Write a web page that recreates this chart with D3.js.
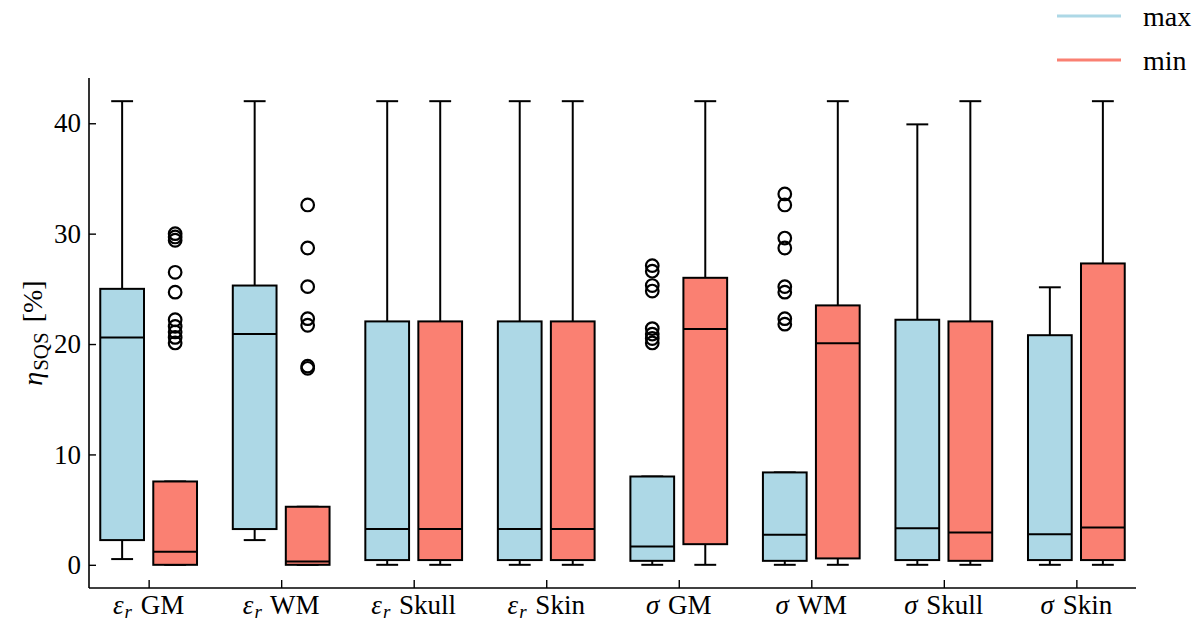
<!DOCTYPE html>
<html>
<head>
<meta charset="utf-8">
<script src="https://cdn.jsdelivr.net/npm/d3@7"></script>
<style>
  body { margin: 0; background: #fff; }
  text { font-family: "Liberation Serif", "DejaVu Serif", serif; }
</style>
</head>
<body>
<div id="chart"></div>
<script>
// Kategorien (Parameter + Gewebe)
const params = ["ε", "ε", "ε", "ε", "σ", "σ", "σ", "σ"];
const tissues = ["GM", "WM", "Skull", "Skin", "GM", "WM", "Skull", "Skin"];
const yTicks = [0, 10, 20, 30, 40];

// Serie "max"
const maxLow = [0.52, 2.24, 0, 0, 0, 0, 0, 0];
const maxQ1 = [2.24, 3.24, 0.43, 0.43, 0.36, 0.36, 0.43, 0.43];
const maxMed = [20.6, 20.9, 3.24, 3.24, 1.66, 2.72, 3.32, 2.78];
const maxQ3 = [25.0, 25.3, 22.05, 22.05, 8.0, 8.37, 22.2, 20.8];
const maxHigh = [42, 42, 42, 42, 8.0, 8.37, 39.9, 25.14];
const maxOut = [
    [], [], [], [],
    [27.1, 26.6, 25.3, 24.8, 21.4, 20.9, 20.5, 20.1],
    [33.6, 32.6, 29.6, 28.7, 25.2, 24.7, 22.3, 21.8],
    [], []
];

// Serie "min"
const minLow = [0, 0, 0, 0, 0, 0, 0, 0];
const minQ1 = [0, 0, 0.43, 0.43, 1.87, 0.58, 0.36, 0.43];
const minMed = [1.18, 0.3, 3.24, 3.24, 21.37, 20.07, 2.93, 3.38];
const minQ3 = [7.55, 5.26, 22.05, 22.05, 26.0, 23.5, 22.05, 27.3];
const minHigh = [7.55, 5.26, 42, 42, 42, 42, 42, 42];
const minOut = [
    [30.0, 29.7, 29.4, 26.5, 24.7, 22.2, 21.6, 21.1, 20.6, 20.1],
    [32.6, 28.7, 25.2, 22.3, 21.7, 18.0, 17.8],
    [], [], [], [], [], []
];

const series = [
    { name: "max", color: "#add8e6", offset: -0.2, low: maxLow, q1: maxQ1, med: maxMed, q3: maxQ3, high: maxHigh, out: maxOut },
    { name: "min", color: "#fa8072", offset: 0.2, low: minLow, q1: minQ1, med: minMed, q3: minQ3, high: minHigh, out: minOut },
];

const width = 1200, height = 622;
const plotLeft = 89, plotRight = 1136, plotTop = 78, plotBottom = 588;
const fontSize = 27;

const svg = d3.select("#chart").append("svg")
    .attr("width", width)
    .attr("height", height);

const x = d3.scaleLinear().domain([-0.45, 7.45]).range([plotLeft, plotRight]);
const y = d3.scaleLinear().domain([-2.1, 44.1]).range([plotBottom, plotTop]);

const boxW = x(0.33) - x(0);
const capW = boxW / 2;

// Boxen zeichnen
series.forEach(s => {
    const g = svg.append("g");
    tissues.forEach((_, i) => {
        const cx = x(i + s.offset);
        // Whisker
        g.append("line").attr("x1", cx).attr("x2", cx)
            .attr("y1", y(s.q3[i])).attr("y2", y(s.high[i]))
            .attr("stroke", "#000").attr("stroke-width", 2);
        g.append("line").attr("x1", cx).attr("x2", cx)
            .attr("y1", y(s.q1[i])).attr("y2", y(s.low[i]))
            .attr("stroke", "#000").attr("stroke-width", 2);
        // Caps
        [s.high[i], s.low[i]].forEach(v => {
            g.append("line").attr("x1", cx - capW / 2).attr("x2", cx + capW / 2)
                .attr("y1", y(v)).attr("y2", y(v))
                .attr("stroke", "#000").attr("stroke-width", 2);
        });
        // Box
        g.append("rect")
            .attr("x", cx - boxW / 2)
            .attr("y", y(s.q3[i]))
            .attr("width", boxW)
            .attr("height", y(s.q1[i]) - y(s.q3[i]))
            .attr("fill", s.color)
            .attr("stroke", "#000").attr("stroke-width", 2);
        // Median
        g.append("line").attr("x1", cx - boxW / 2).attr("x2", cx + boxW / 2)
            .attr("y1", y(s.med[i])).attr("y2", y(s.med[i]))
            .attr("stroke", "#000").attr("stroke-width", 2);
        // Ausreisser
        g.selectAll(null).data(s.out[i]).join("circle")
            .attr("cx", cx).attr("cy", d => y(d)).attr("r", 6.3)
            .attr("fill", "none").attr("stroke", "#000").attr("stroke-width", 2.2);
    });
});

// Achsen
const yAxis = svg.append("g")
    .attr("transform", `translate(${plotLeft},0)`)
    .call(d3.axisLeft(y).tickValues(yTicks).tickSize(-7).tickPadding(8));
yAxis.select(".domain").attr("d", `M0,${plotTop}V${plotBottom}`).attr("stroke-width", 1.6);
yAxis.selectAll(".tick line").attr("stroke-width", 1.4);
yAxis.selectAll("text").attr("font-size", fontSize).attr("fill", "#000")
    .attr("font-family", "Liberation Serif");

const xAxis = svg.append("g")
    .attr("transform", `translate(0,${plotBottom})`)
    .call(d3.axisBottom(x).tickValues(d3.range(tissues.length)).tickSize(-8).tickFormat(""));
xAxis.select(".domain").attr("d", `M${plotLeft},0H${plotRight}`).attr("stroke-width", 1.6);
xAxis.selectAll(".tick line").attr("stroke-width", 1.4);

// X-Beschriftungen
tissues.forEach((t, i) => {
    const txt = svg.append("text")
        .attr("x", x(i)).attr("y", plotBottom + 26)
        .attr("text-anchor", "middle")
        .attr("font-size", fontSize).attr("fill", "#000");
    txt.append("tspan").attr("font-style", "italic").text(params[i]);
    if (params[i] === "ε") {
        txt.append("tspan").attr("font-style", "italic").attr("font-size", 19)
            .attr("dx", 1).attr("dy", 4).text("r");
        txt.append("tspan").attr("dx", 2).attr("dy", -4).text(" " + t);
    } else {
        txt.append("tspan").attr("dx", 2).text(" " + t);
    }
});

// Y-Titel
const yl = svg.append("text")
    .attr("transform", `translate(42,${(plotTop + plotBottom) / 2}) rotate(-90)`)
    .attr("text-anchor", "middle")
    .attr("font-size", 28).attr("fill", "#000");
yl.append("tspan").attr("font-style", "italic").text("η");
yl.append("tspan").attr("font-size", 21).attr("dx", 1).attr("dy", 6).text("SQS");
yl.append("tspan").attr("dx", 3).attr("dy", -6).text(" [%]");

// Legende
const legend = svg.append("g");
series.forEach((s, i) => {
    const ly = 16 + i * 44;
    legend.append("line").attr("x1", 1057).attr("x2", 1121)
        .attr("y1", ly).attr("y2", ly)
        .attr("stroke", s.color).attr("stroke-width", 3);
    legend.append("text").attr("x", 1143).attr("y", ly + 10)
        .attr("font-size", 28).attr("fill", "#000").text(s.name);
});
</script>
</body>
</html>
